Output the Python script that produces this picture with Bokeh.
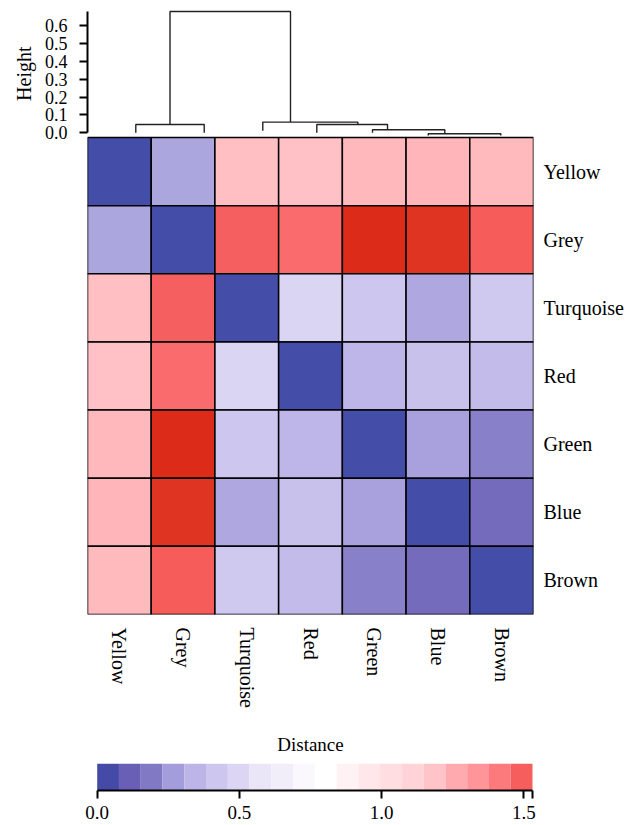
import numpy as np
from bokeh.plotting import figure
from bokeh.layouts import column
from bokeh.models import (Range1d, FixedTicker, PrintfTickFormatter, LinearAxis, Title,
                          LinearColorMapper, ColumnDataSource)
from bokeh.transform import transform
from bokeh.embed import file_html
from bokeh.resources import INLINE

FONT = "Liberation Serif"

# ---------------- data ----------------
labels = ["Yellow", "Grey", "Turquoise", "Red", "Green", "Blue", "Brown"]

dist_yellow    = [0.000, 0.295, 1.200, 1.195, 1.220, 1.230, 1.210]
dist_grey      = [0.295, 0.000, 1.490, 1.455, 1.700, 1.663, 1.500]
dist_turquoise = [1.200, 1.490, 0.000, 0.497, 0.421, 0.306, 0.436]
dist_red       = [1.195, 1.455, 0.497, 0.000, 0.350, 0.402, 0.373]
dist_green     = [1.220, 1.700, 0.421, 0.350, 0.000, 0.283, 0.210]
dist_blue      = [1.230, 1.663, 0.306, 0.402, 0.283, 0.000, 0.156]
dist_brown     = [1.210, 1.500, 0.436, 0.373, 0.210, 0.156, 0.000]
dist_rows = [dist_yellow, dist_grey, dist_turquoise, dist_red, dist_green, dist_blue, dist_brown]

# dendrogram merges (x in column units, heights in "Height" units)
merge_left_x       = [0.758, 5.348, 4.473, 3.599, 2.751, 1.295]
merge_right_x      = [1.832, 6.487, 5.608, 4.709, 4.243, 3.186]
merge_height       = [0.0466, -0.0056, 0.017, 0.0466, 0.060, 0.680]
merge_left_bottom  = [0.000, -0.015, 0.000, 0.000, 0.011, 0.0466]
merge_right_bottom = [0.000, -0.015, -0.0056, 0.017, 0.0466, 0.060]
height_ticks = [0.0, 0.1, 0.2, 0.3, 0.4, 0.5, 0.6]
height_max = 0.68

# colour bar
cb_palette = ["#444aa6", "#6a5fb6", "#8279c4", "#a39ddb", "#bdb5e7", "#cdc6ee",
              "#dcd6f4", "#eae6f8", "#f1eefa", "#faf8fd", "#ffffff", "#fff2f4",
              "#ffe7ea", "#ffdde1", "#ffd3d8", "#ffc4c8", "#ffaaae", "#ff9499",
              "#fd7a7c", "#f65e5e"]
cb_max = 1.53
cb_ticks = [0.0, 0.5, 1.0, 1.5, 1.53]
# darker reds used by the heatmap above the colour bar's top
extra_reds_values = [1.60, 1.70, 1.75]
extra_reds_colors = ["#e8463a", "#dc2b18", "#d82414"]

# ---------------- layout constants (pixels) ----------------
LEFT = 87          # frame left
FRAME_W = 446
TOP = 5            # frame top
DEND_H = 132       # dendrogram band height
HM_H = 477         # heatmap height
DEND_PX = 178.3    # pixels per unit of Height
DEND_ZERO = 132.3 - TOP   # pixel offset of Height 0 from the frame top

n = len(labels)
row_px = HM_H / n
y_top = n + DEND_H / row_px
frame_h = DEND_H + HM_H
dend_hi = DEND_ZERO / DEND_PX
dend_lo = -(frame_h - DEND_ZERO) / DEND_PX

# ---------------- heatmap colour mapping ----------------
def hex2rgb(h):
    h = h.lstrip("#")
    return np.array([int(h[i:i + 2], 16) for i in (0, 2, 4)], dtype=float)

bin_w = cb_max / len(cb_palette)
anchor_v = [0.0] + [(i + 0.5) * bin_w for i in range(len(cb_palette))] + extra_reds_values
anchor_c = ["#444ea8"] + cb_palette + extra_reds_colors
anchor_rgb = np.array([hex2rgb(c) for c in anchor_c])
hm_low, hm_high = 0.0, extra_reds_values[-1]
grid = np.linspace(hm_low, hm_high, 256)
pal = []
for g in grid:
    rgb = [np.interp(g, anchor_v, anchor_rgb[:, k]) for k in range(3)]
    pal.append("#%02x%02x%02x" % tuple(int(round(c)) for c in rgb))
hm_mapper = LinearColorMapper(palette=pal, low=hm_low, high=hm_high)

xs, ys, vs = [], [], []
for i, row in enumerate(dist_rows):
    for j, v in enumerate(row):
        xs.append(j + 0.5)
        ys.append(n - i - 0.5)
        vs.append(v)
hm_src = ColumnDataSource(dict(x=xs, y=ys, v=vs))

# ---------------- main figure: dendrogram + heatmap ----------------
p = figure(x_range=Range1d(0, n), y_range=Range1d(0, y_top),
           frame_width=FRAME_W, frame_height=frame_h,
           min_border_left=LEFT, min_border_right=0, min_border_top=TOP, min_border_bottom=101,
           x_axis_location="below", y_axis_location="right",
           output_backend="svg", toolbar_location=None)
p.extra_y_ranges = {"dend": Range1d(dend_lo, dend_hi)}

p.rect(x="x", y="y", width=1, height=1, source=hm_src,
       fill_color=transform("v", hm_mapper), line_color="black", line_width=1.5)

dx, dy = [], []
for lx, rx, h, lb, rb in zip(merge_left_x, merge_right_x, merge_height,
                             merge_left_bottom, merge_right_bottom):
    dx.append([lx, lx, rx, rx])
    dy.append([lb, h, h, rb])
p.multi_line(xs=dx, ys=dy, line_color="#222222", line_width=1.4, y_range_name="dend")

p.grid.visible = False
p.outline_line_color = None

xa = p.xaxis[0]
xa.ticker = FixedTicker(ticks=[j + 0.5 for j in range(n)])
xa.major_label_overrides = {j + 0.5: lab for j, lab in enumerate(labels)}
xa.major_label_orientation = "vertical"
xa.major_label_standoff = 13
ya = p.yaxis[0]
ya.ticker = FixedTicker(ticks=[n - i - 0.5 for i in range(n)])
ya.major_label_overrides = {n - i - 0.5: lab for i, lab in enumerate(labels)}
ya.major_label_standoff = 10
for ax in (xa, ya):
    ax.axis_line_color = None
    ax.major_tick_line_color = None
    ax.major_tick_out = 0
    ax.major_tick_in = 0
    ax.minor_tick_line_color = None
    ax.major_label_text_font = FONT
    ax.major_label_text_font_size = "20px"
    ax.major_label_text_color = "black"

da = LinearAxis(y_range_name="dend", bounds=(0, height_max),
                ticker=FixedTicker(ticks=height_ticks),
                formatter=PrintfTickFormatter(format="%.1f"))
da.minor_tick_line_color = None
da.axis_line_width = 2
da.axis_line_color = "black"
da.major_tick_line_width = 2
da.major_tick_line_color = "black"
da.major_tick_out = 8
da.major_tick_in = 0
da.major_label_standoff = 12
da.major_label_text_font = FONT
da.major_label_text_font_size = "18px"
da.major_label_text_color = "black"
p.add_layout(da, "left")

# "Height" title of the dendrogram axis, placed along the axis' drawn span
h_title = Title(text="Height", align="right", offset=41, standoff=14,
                text_font=FONT, text_font_size="20px", text_font_style="normal",
                text_color="black")
p.add_layout(h_title, "left")

# ---------------- colour bar figure ----------------
CB_PX = 284.5            # pixels per unit of Distance
CB_ZERO = 96.7 - LEFT    # pixel offset of 0 from the frame's left
cb_lo = -CB_ZERO / CB_PX
cb_hi = (FRAME_W - CB_ZERO) / CB_PX
edges = np.linspace(0, cb_max, len(cb_palette) + 1)
cb_src = ColumnDataSource(dict(left=edges[:-1], right=edges[1:], color=cb_palette))
p3 = figure(x_range=Range1d(cb_lo, cb_hi), y_range=Range1d(0, 1),
            frame_width=FRAME_W, frame_height=27,
            min_border_left=LEFT, min_border_right=90, min_border_top=48, min_border_bottom=35,
            y_axis_location=None, title="Distance",
            output_backend="svg", toolbar_location=None)
p3.quad(left="left", right="right", bottom=0, top=1, fill_color="color",
        line_color=None, source=cb_src)
p3.grid.visible = False
p3.outline_line_color = None
p3.title.align = "center"
p3.title.offset = 4
p3.title.standoff = 18
p3.title.text_font = FONT
p3.title.text_font_size = "19px"
p3.title.text_font_style = "normal"
p3.title.text_color = "black"
ca = p3.xaxis[0]
ca.bounds = (0, cb_max)
ca.ticker = FixedTicker(ticks=cb_ticks)
ca.formatter = PrintfTickFormatter(format="%.1f")
ca.major_label_overrides = {1.53: ""}
ca.minor_tick_line_color = None
ca.axis_line_width = 2
ca.axis_line_color = "black"
ca.major_tick_line_width = 2
ca.major_tick_line_color = "black"
ca.major_tick_out = 8
ca.major_tick_in = 0
ca.major_label_standoff = 7
ca.major_label_text_font = FONT
ca.major_label_text_font_size = "19px"
ca.major_label_text_color = "black"

layout = column(p, p3, spacing=0)
open("out.html", "w").write(file_html(layout, INLINE))
